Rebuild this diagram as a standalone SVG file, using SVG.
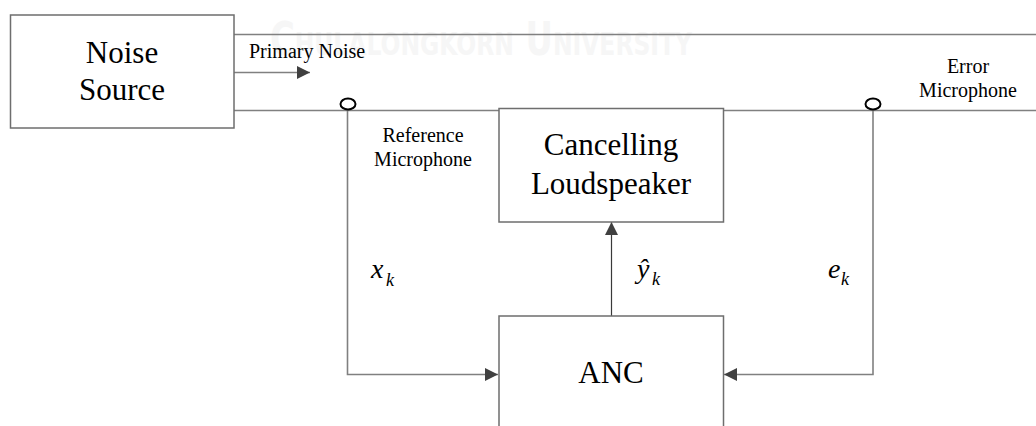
<svg xmlns="http://www.w3.org/2000/svg" width="1036" height="426" viewBox="0 0 1036 426">
  <style>
    .box { fill: #ffffff; stroke: #6e6e6e; stroke-width: 1.5; }
    .wire { fill: none; stroke: #808080; stroke-width: 1.6; }
    .feed { fill: none; stroke: #3a3a3a; stroke-width: 1.2; }
    .mic { fill: #ffffff; stroke: #000000; stroke-width: 2; }
    .big { font-family: "Liberation Serif", "Times New Roman", serif; font-size: 31px; fill: #000000; text-anchor: middle; }
    .small { font-family: "Liberation Serif", "Times New Roman", serif; font-size: 20px; fill: #000000; }
    .mid { text-anchor: middle; }
    .sym { font-family: "Liberation Serif", "Times New Roman", serif; font-style: italic; font-size: 28px; fill: #000000; }
    .sub { font-family: "Liberation Serif", "Times New Roman", serif; font-style: italic; font-size: 18px; fill: #000000; }
    .mark { font-family: "Liberation Sans Narrow", "DejaVu Sans Condensed", "Liberation Sans", sans-serif; font-weight: bold; font-size: 46px; font-variant: small-caps; fill: #f6f6f6; }
  </style>
  <defs>
    <marker id="head" viewBox="0 0 13 13" refX="13" refY="6.5" markerWidth="13" markerHeight="13" markerUnits="userSpaceOnUse" orient="auto">
      <path d="M0,0 L13,6.5 L0,13 z" fill="#404040"/>
    </marker>
  </defs>

  <rect width="1036" height="426" fill="#ffffff"/>

  <!-- background watermark -->
  <text class="mark" x="270" y="55" textLength="422" lengthAdjust="spacingAndGlyphs">Chulalongkorn University</text>

  <!-- duct walls and signal paths -->
  <g id="connectors">
    <line class="wire" x1="234" y1="34.5" x2="1036" y2="34.5"/>
    <line class="wire" x1="234" y1="110.5" x2="1036" y2="110.5"/>
    <line class="wire" x1="234" y1="72.5" x2="310" y2="72.5" marker-end="url(#head)"/>
    <polyline class="wire" points="347.5,110 347.5,374.5 498,374.5" marker-end="url(#head)"/>
    <polyline class="wire" points="873,110 873,374.5 724,374.5" marker-end="url(#head)"/>
    <line class="feed" x1="611.5" y1="316" x2="611.5" y2="222" marker-end="url(#head)"/>
  </g>

  <g id="noise-source">
    <rect class="box" x="10.5" y="15" width="223.5" height="113"/>
    <text class="big" x="122" y="63">Noise</text>
    <text class="big" x="122" y="100">Source</text>
  </g>

  <g id="primary-noise-label">
    <text class="small" x="249" y="58">Primary Noise</text>
  </g>

  <g id="reference-microphone">
    <ellipse class="mic" cx="348" cy="104" rx="7.5" ry="5.5"/>
    <text class="small mid" x="423" y="142">Reference</text>
    <text class="small mid" x="423" y="166">Microphone</text>
  </g>

  <g id="error-microphone">
    <ellipse class="mic" cx="873" cy="104" rx="7.5" ry="5.5"/>
    <text class="small mid" x="968" y="73">Error</text>
    <text class="small mid" x="968" y="97">Microphone</text>
  </g>

  <g id="cancelling-loudspeaker">
    <rect class="box" x="499" y="108.5" width="224.5" height="113.5"/>
    <text class="big" x="611" y="155">Cancelling</text>
    <text class="big" x="611" y="194">Loudspeaker</text>
  </g>

  <g id="anc">
    <rect class="box" x="499" y="316" width="224.5" height="130"/>
    <text class="big" x="611" y="383">ANC</text>
  </g>

  <g id="signal-labels">
    <text class="sym" x="371" y="278">x</text>
    <text class="sub" x="386" y="286">k</text>
    <text class="sym" x="637" y="278">ŷ</text>
    <text class="sub" x="652" y="285">k</text>
    <text class="sym" x="828" y="278">e</text>
    <text class="sub" x="841" y="285">k</text>
  </g>
</svg>
